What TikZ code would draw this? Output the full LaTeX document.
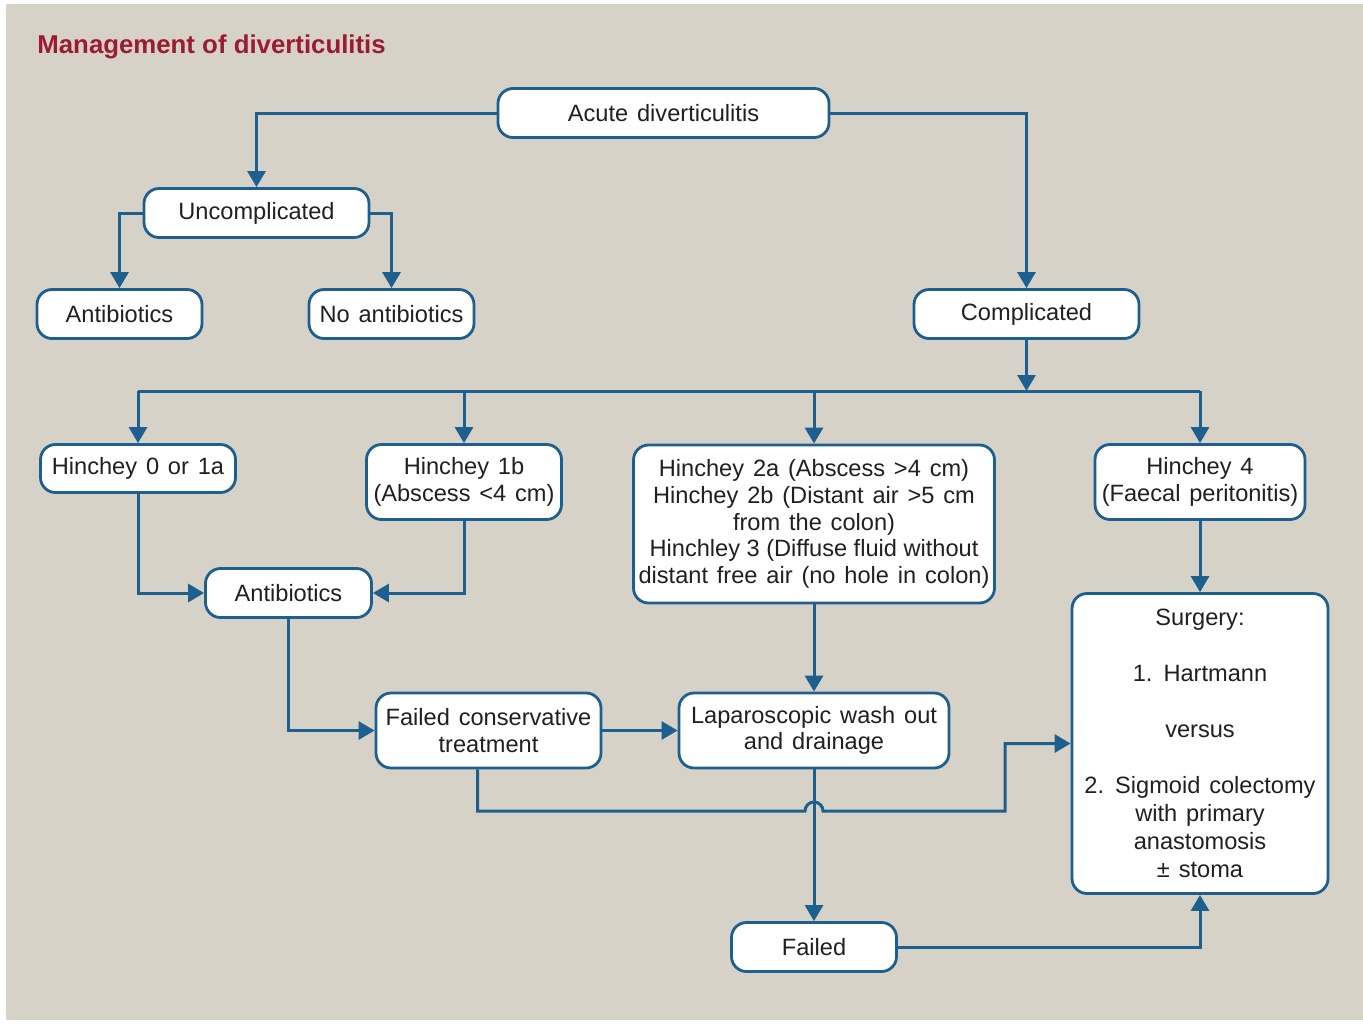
\documentclass[tikz,border=0pt]{standalone}
\usepackage{fontspec}
\setmainfont{Liberation Sans}[WordSpace=1.35]
\newfontfamily\plainsp{Liberation Sans}
\usetikzlibrary{arrows.meta}
\definecolor{bgbeige}{HTML}{D7D2C7}
\definecolor{flowblue}{HTML}{1D6090}
\definecolor{titlered}{HTML}{9B1B32}
\definecolor{txtgray}{HTML}{231F20}
\begin{document}
\begin{tikzpicture}[x=0.5pt,y=-0.5pt,
  box/.style={draw=flowblue,fill=white,line width=1.4pt,rounded corners=7.5pt,
    align=center,inner sep=2pt,text=txtgray,font=\fontsize{11.8}{13.3}\selectfont},
  link/.style={draw=flowblue,line width=1.5pt},
  arr/.style={link,-{Triangle[width=9pt,length=8pt]}}]
\useasboundingbox (0,0) rectangle (1363,1023);
\fill[white] (0,0) rectangle (1363,1023);
\fill[bgbeige] (6,4) rectangle (1363,1020);
\node[anchor=base west,inner sep=0,text=titlered,
  font=\plainsp\bfseries\fontsize{12.9}{15}\selectfont] (title) at (37,53) {Management of diverticulitis};
% boxes
\node[box,minimum width=165.5pt,minimum height=24.5pt] (acute) at (663.5,113) {Acute diverticulitis};
\node[box,minimum width=112.5pt,minimum height=24.5pt] (uncomp) at (256.5,213) {Uncomplicated};
\node[box,minimum width=82.5pt,minimum height=24.5pt] (abxA) at (119.5,314) {Antibiotics};
\node[box,minimum width=82.5pt,minimum height=24.5pt] (noabx) at (391.5,314) {No antibiotics};
\node[box,minimum width=112.5pt,minimum height=24.5pt] (compl) at (1026.5,314) {Complicated};
\node[box,minimum width=97.5pt,minimum height=24pt] (hzero) at (138,468.5) {Hinchey 0 or 1a};
\node[box,minimum width=97.5pt,minimum height=37.5pt] (hone) at (464,482) {Hinchey 1b\\(Abscess <4 cm)};
\node[box,minimum width=180.5pt,minimum height=79pt] (htwo) at (814,524) {Hinchey 2a (Abscess >4 cm)\\
  Hinchey 2b (Distant air >5 cm\\ from the colon)\\
  {\plainsp Hinchley 3 (Diffuse fluid without}\\ distant free air (no hole in colon)};
\node[box,minimum width=105pt,minimum height=37.5pt] (hfour) at (1200,482) {Hinchey 4\\(Faecal peritonitis)};
\node[box,minimum width=83pt,minimum height=24.5pt] (abxB) at (288.5,593) {Antibiotics};
\node[box,minimum width=112.5pt,minimum height=37.5pt] (failcons) at (488.5,730.5) {Failed conservative\\treatment};
\node[box,minimum width=135pt,minimum height=37.5pt] (lap) at (814,730.5) {Laparoscopic wash out\\and drainage};
\node[box,minimum width=128pt,minimum height=150pt,font=\fontsize{11.8}{14}\selectfont] (surg) at (1200,743.5) {Surgery:\\[14pt]
  1. Hartmann\\[14pt] versus\\[14pt] 2. Sigmoid colectomy\\ with primary\\ anastomosis\\ ± stoma};
\node[box,minimum width=82.5pt,minimum height=24.5pt] (failed) at (814,947) {Failed};
% connectors
\draw[arr] (acute.west) -| (uncomp.north);
\draw[arr] (acute.east) -| (compl.north);
\draw[arr] (uncomp.west) -| (abxA.north);
\draw[arr] (uncomp.east) -| (noabx.north);
\coordinate (busL) at (hzero.north |- 0,391);
\coordinate (busR) at (hfour.north |- 0,391);
\draw[link] (busL) -- (busR);
\draw[arr] (compl.south) -- (compl.south |- busL);
\foreach \n in {hzero,hone,htwo,hfour}
  \draw[arr] (\n.north |- busL) -- (\n.north);
\draw[arr] (hzero.south) |- (abxB.west);
\draw[arr] (hone.south) |- (abxB.east);
\draw[arr] (abxB.south) |- (failcons.west);
\draw[arr] (failcons.east) -- (lap.west);
\draw[arr] (htwo.south) -- (lap.north);
\draw[arr] (hfour.south) -- (surg.north);
\draw[arr] (lap.south) -- (failed.north);
\draw[arr] (failed.east) -| (surg.south);
\coordinate (fcout) at ([xshift=-5.5pt]failcons.south);
\coordinate (hop) at (lap.south |- 0,811);
\coordinate (bend) at (1005,811);
\draw[arr] (fcout) |- ([xshift=-4.5pt]hop) arc[start angle=180,end angle=0,radius=4.5pt]
  -- (bend) |- (surg.west);
\end{tikzpicture}
\end{document}
